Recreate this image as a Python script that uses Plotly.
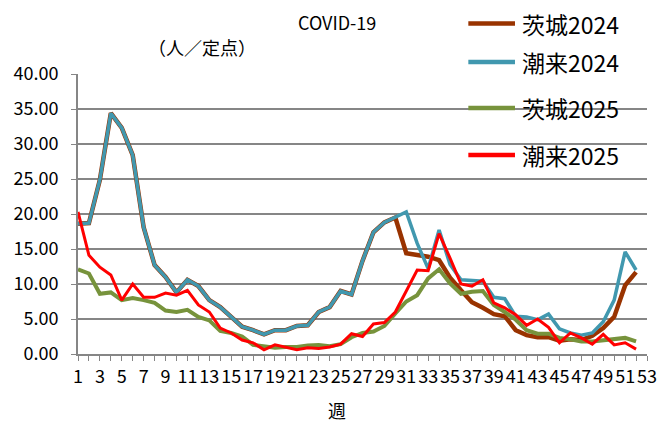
import plotly.graph_objects as go

weeks = list(range(1, 53))
tick_weeks = list(range(1, 54))
tick_text = [str(w) if w % 2 == 1 else "" for w in tick_weeks]

ibaraki_2024 = [18.6, 18.7, 24.9, 34.4, 32.3, 28.4, 18.1, 12.7, 11.0, 8.8,
                10.6, 9.7, 7.7, 6.7, 5.3, 3.9, 3.4, 2.8, 3.4, 3.4,
                4.0, 4.1, 6.0, 6.7, 9.0, 8.5, 13.3, 17.4, 18.8, 19.5,
                14.4, 14.2, 13.9, 13.4, 10.9, 9.1, 7.4, 6.6, 5.7, 5.4,
                3.4, 2.7, 2.4, 2.4, 1.9, 2.1, 2.0, 2.6, 3.7, 5.3,
                9.8, 11.7]
itako_2024 = [18.6, 18.7, 24.9, 34.4, 32.3, 28.4, 18.1, 12.7, 11.0, 8.8,
              10.6, 9.7, 7.7, 6.7, 5.3, 3.9, 3.4, 2.8, 3.4, 3.4,
              4.0, 4.1, 6.0, 6.7, 9.0, 8.5, 13.3, 17.4, 18.8, 19.5,
              20.3, 15.8, 12.2, 17.7, 12.8, 10.6, 10.5, 10.4, 8.1, 7.9,
              5.4, 5.3, 4.9, 5.7, 3.6, 3.0, 2.7, 3.0, 4.6, 7.7,
              14.6, 12.0]
ibaraki_2025 = [12.1, 11.5, 8.6, 8.8, 7.7, 8.0, 7.7, 7.3, 6.2, 6.0,
                6.3, 5.3, 4.8, 3.3, 3.0, 2.5, 1.3, 1.1, 0.9, 1.0,
                1.0, 1.2, 1.3, 1.1, 1.4, 2.4, 3.0, 3.2, 4.0, 5.8,
                7.5, 8.4, 10.8, 12.1, 10.1, 8.6, 8.9, 9.0, 7.0, 6.0,
                4.9, 3.4, 2.9, 2.9, 2.3, 2.1, 1.8, 1.8, 2.0, 2.1,
                2.3, 1.8]
itako_2025 = [20.3, 14.1, 12.4, 11.3, 7.7, 10.0, 8.1, 8.1, 8.7, 8.4,
              9.1, 7.0, 6.0, 3.7, 3.0, 2.0, 1.6, 0.6, 1.3, 1.0,
              0.6, 0.9, 0.8, 1.0, 1.4, 2.9, 2.5, 4.3, 4.5, 6.0,
              9.1, 12.0, 11.9, 17.2, 13.7, 10.0, 9.7, 10.6, 7.3, 6.6,
              5.6, 4.1, 5.0, 3.8, 1.6, 3.0, 2.3, 1.4, 2.8, 1.3,
              1.6, 0.7]

series_names = ["茨城2024", "潮来2024", "茨城2025", "潮来2025"]
series_values = [ibaraki_2024, itako_2024, ibaraki_2025, itako_2025]
series_colors = ["#993300", "#4198AF", "#77933C", "#FF0000"]
series_widths = [4.5, 3.5, 4.0, 3.0]

FONT = "Noto Sans CJK JP"

fig = go.Figure()
for name, vals, color, width in zip(series_names, series_values, series_colors, series_widths):
    fig.add_trace(go.Scatter(
        x=weeks, y=vals, name=name, mode="lines",
        line=dict(color=color, width=width), showlegend=False,
    ))

# manual legend (paper coordinates)
leg_y = [1.180, 1.043, 0.879, 0.711]
shapes = []
annotations = []
for name, color, ly in zip(series_names, series_colors, leg_y):
    shapes.append(dict(type="line", xref="paper", yref="paper",
                       x0=0.686, x1=0.768, y0=ly, y1=ly,
                       line=dict(color=color, width=4.5)))
    annotations.append(dict(text=name, xref="paper", yref="paper",
                            x=0.776, y=ly, xanchor="left", yanchor="middle",
                            showarrow=False, font=dict(size=23, family=FONT)))

annotations += [
    dict(text="COVID-19", xref="paper", yref="paper", x=0.455, y=1.186,
         xanchor="center", yanchor="middle",
         showarrow=False, font=dict(size=18, family=FONT)),
    dict(text="（人／定点）", xref="paper", yref="paper", x=0.218, y=1.097,
         xanchor="center", yanchor="middle",
         showarrow=False, font=dict(size=18, family=FONT)),
    dict(text="週", xref="paper", yref="paper", x=0.455, y=-0.2,
         xanchor="center", yanchor="middle",
         showarrow=False, font=dict(size=18, family=FONT)),
]

fig.update_layout(
    width=659, height=415,
    margin=dict(l=70, r=20, t=66, b=69, autoexpand=False),
    paper_bgcolor="white", plot_bgcolor="white",
    font=dict(family=FONT, color="black", size=18),
    showlegend=False,
    xaxis=dict(
        range=[1, 53], tickmode="array", tickvals=tick_weeks, ticktext=tick_text,
        showgrid=False, zeroline=False, automargin=False,
        showline=True, linecolor="#868686", linewidth=2,
        ticks="outside", ticklen=5, tickcolor="#868686", tickwidth=1,
        tickfont=dict(size=18, family=FONT), tickangle=0,
    ),
    yaxis=dict(
        range=[0, 40], dtick=5, tickformat=".2f", automargin=False,
        showgrid=True, gridcolor="#868686", gridwidth=1.5,
        zeroline=False,
        showline=True, linecolor="#868686", linewidth=2,
        ticks="outside", ticklen=5, tickcolor="#868686",
        tickfont=dict(size=18, family=FONT), ticklabelstandoff=9,
    ),
    shapes=shapes,
    annotations=annotations,
)

fig.write_html("out.html")
